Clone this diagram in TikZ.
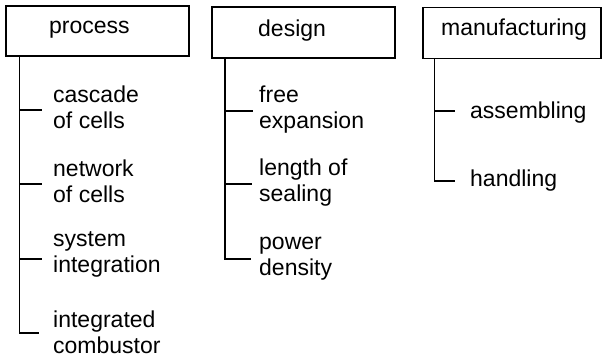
\documentclass[tikz,border=0pt]{standalone}
\usepackage{fontspec}
\setmainfont{Liberation Sans}
\begin{document}
\begin{tikzpicture}[x=1pt,y=-1pt,
  box/.style={draw,line width=1.2pt,inner sep=0pt},
  lab/.style={inner sep=0pt,anchor=base west,align=left,font=\fontsize{23}{26}\selectfont},
  tree/.style={line width=1.2pt}]
\useasboundingbox (0,0) rectangle (602,360);
% boxes
\node[box,minimum width=183pt,minimum height=50pt] (p) at (97.5,31) {};
\node[box,minimum width=183pt,minimum height=51pt] (d) at (303.5,32.5) {};
\node[box,minimum width=178pt,minimum height=51pt] (m) at (512,33) {};
\node[lab] (pt) at (49,33.5) {process};
\node[lab] (dt) at (258,36) {design};
\node[lab] (mt) at (441,35) {manufacturing};
% labels (base = last line)
\node[lab] (a1) at (53,128) {cascade\\of cells};
\node[lab] (a2) at (53,202) {network\\of cells};
\node[lab] (a3) at (53,272.5) {system\\integration};
\node[lab] (a4) at (53,353) {integrated\\combustor};
\node[lab] (b1) at (259,128) {free\\expansion};
\node[lab] (b2) at (259,201.5) {length of\\sealing};
\node[lab] (b3) at (259,275.5) {power\\density};
\node[lab] (c1) at (470,118.5) {assembling};
\node[lab] (c2) at (470,186.5) {handling};
% trunks
\coordinate (p0) at (19.3,56);
\coordinate (pe1) at (42,110);
\coordinate (pe2) at (42,184);
\coordinate (pe3) at (42,259);
\coordinate (pe4) at (39,333);
\coordinate (d0) at (225,58);
\coordinate (de1) at (253,111);
\coordinate (de2) at (252,184);
\coordinate (de3) at (251,259);
\coordinate (m0) at (434.5,58.5);
\coordinate (me1) at (455,111);
\coordinate (me2) at (455,181);
\draw[tree] (p0) |- (pe4);
\draw[tree] (p0 |- pe1) -- (pe1);
\draw[tree] (p0 |- pe2) -- (pe2);
\draw[tree] (p0 |- pe3) -- (pe3);
\draw[tree] (d0) |- (de3);
\draw[tree] (d0 |- de1) -- (de1);
\draw[tree] (d0 |- de2) -- (de2);
\draw[tree] (m0) |- (me2);
\draw[tree] (m0 |- me1) -- (me1);
\end{tikzpicture}
\end{document}
